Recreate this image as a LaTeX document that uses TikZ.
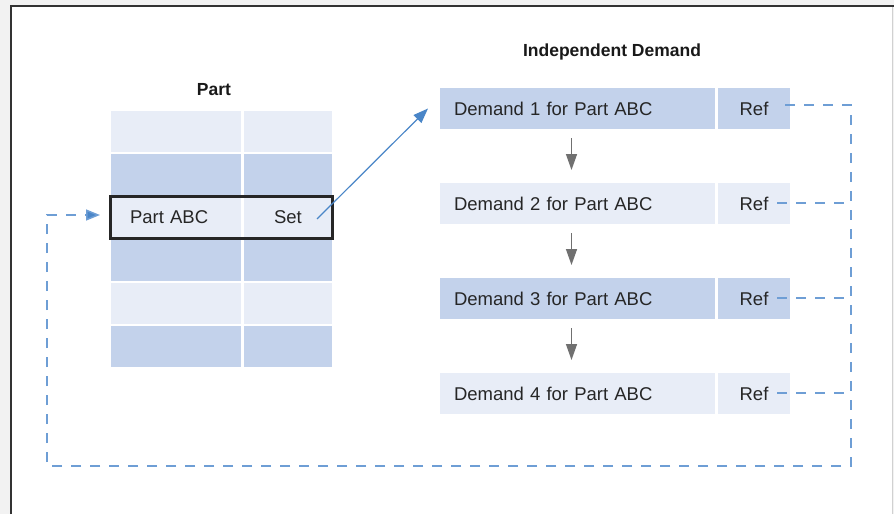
\documentclass[tikz,border=0pt]{standalone}
\usepackage{fontspec}
\setmainfont{Liberation Sans}
\usetikzlibrary{positioning,arrows.meta}

\definecolor{rowlite}{RGB}{232,237,247}
\definecolor{rowdark}{RGB}{195,210,235}
\definecolor{linkblue}{RGB}{74,134,200}
\definecolor{refblue}{RGB}{110,158,213}
\definecolor{stepgray}{RGB}{112,112,112}

\tikzset{
  cell/.style={minimum height=41pt, inner sep=0pt, outer sep=0pt,
    font=\fontsize{18.5}{22}\selectfont, text=black!85},
  lite/.style={cell, fill=rowlite},
  dark/.style={cell, fill=rowdark},
  namecol/.style={minimum width=130pt},
  setcol/.style={minimum width=88pt},
  demcol/.style={minimum width=275pt, text width=247pt, inner xsep=14pt, align=left},
  refcol/.style={minimum width=72pt},
  heading/.style={font=\fontsize{17.5}{20}\selectfont\bfseries, text=black!90},
  nextarrow/.style={stepgray, line width=1.4pt, -{Triangle[length=16pt,width=11pt]}},
  setlink/.style={linkblue, line width=1.2pt, -{Triangle[length=15pt,width=11pt]}},
  refline/.style={refblue, line width=1.5pt, dash pattern=on 10pt off 9pt}
}

\begin{document}
\begin{tikzpicture}[x=1pt,y=-1pt]
  \useasboundingbox (0,0) rectangle (894,514);
  % page frame
  \fill[black!5] (0,0) rectangle (894,514);
  \fill[white] (11,6) rectangle (892,514);
  \draw[black!80, line width=1.5pt] (11,514) -- (11,6) -- (894,6);
  \draw[black!18, line width=1pt] (892.5,7) -- (892.5,514);

  % part table
  \node[heading] (parthead) at (214,90) {Part};
  \node[lite, namecol] (p1a) at (176,131.5) {};
  \node[dark, namecol, below=2pt of p1a] (p2a) {};
  \node[lite, namecol, below=2pt of p2a, text width=92pt, inner xsep=19pt, align=left] (p3a) {Part ABC};
  \node[dark, namecol, below=2pt of p3a] (p4a) {};
  \node[lite, namecol, below=2pt of p4a] (p5a) {};
  \node[dark, namecol, below=2pt of p5a] (p6a) {};
  \node[lite, setcol, right=3pt of p1a] (p1b) {};
  \node[dark, setcol, right=3pt of p2a] (p2b) {};
  \node[lite, setcol, right=3pt of p3a] (p3b) {Set};
  \node[dark, setcol, right=3pt of p4a] (p4b) {};
  \node[lite, setcol, right=3pt of p5a] (p5b) {};
  \node[dark, setcol, right=3pt of p6a] (p6b) {};
  \draw[black!85, line width=2.4pt] ([xshift=-0.5pt,yshift=0.5pt]p3a.north west) rectangle ([xshift=0.5pt,yshift=-0.5pt]p3b.south east);

  % independent demand records
  \node[heading] (demhead) at (612,52) {Independent Demand};
  \node[dark, demcol] (d1) at (577.5,108.5) {Demand 1 for Part ABC};
  \node[lite, demcol, below=54pt of d1] (d2) {Demand 2 for Part ABC};
  \node[dark, demcol, below=54pt of d2] (d3) {Demand 3 for Part ABC};
  \node[lite, demcol, below=54pt of d3] (d4) {Demand 4 for Part ABC};
  \node[dark, refcol, right=3pt of d1] (r1) {Ref};
  \node[lite, refcol, right=3pt of d2] (r2) {Ref};
  \node[dark, refcol, right=3pt of d3] (r3) {Ref};
  \node[lite, refcol, right=3pt of d4] (r4) {Ref};

  \draw[nextarrow] ([xshift=-6pt,yshift=-9pt]d1.south) -- ([xshift=-6pt,yshift=13pt]d2.north);
  \draw[nextarrow] ([xshift=-6pt,yshift=-9pt]d2.south) -- ([xshift=-6pt,yshift=13pt]d3.north);
  \draw[nextarrow] ([xshift=-6pt,yshift=-9pt]d3.south) -- ([xshift=-6pt,yshift=13pt]d4.north);

  % set pointer to first demand
  \draw[setlink] ([xshift=-15pt,yshift=-1.5pt]p3b.east) -- ([xshift=-12pt]d1.west);

  % ref chain back to the part
  \coordinate (loopse) at (851,466);
  \coordinate (loopsw) at (47,466);
  \draw[refline, -{Triangle[length=14pt,width=11pt,fill=linkblue]}] ([xshift=-5pt,yshift=3.5pt]r1.east) -- ([yshift=3.5pt]r1.center -| loopse) -- (loopse) -- (loopsw)
    -- ([yshift=2.5pt]loopsw |- p3a) -- ([xshift=-11pt,yshift=2.5pt]p3a.west);
  \foreach \r in {r2,r3,r4}
    \draw[refline] ([xshift=-13pt,yshift=0.5pt]\r.east) -- ([yshift=0.5pt]\r.center -| loopse);
\end{tikzpicture}
\end{document}
